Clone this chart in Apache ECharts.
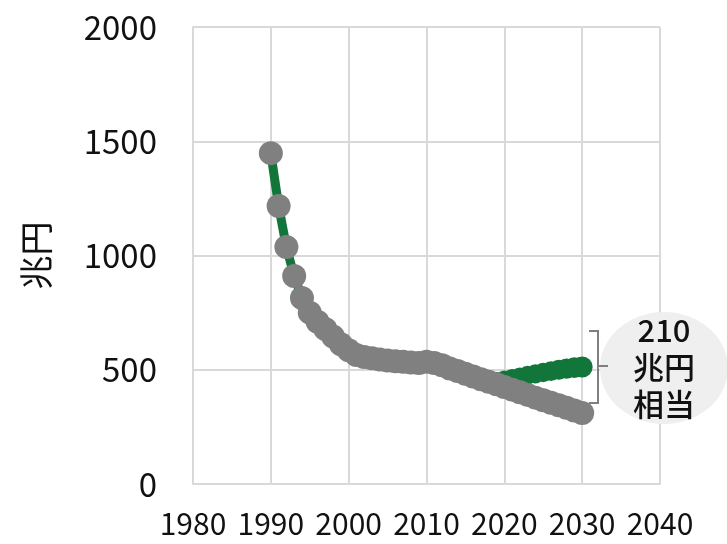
<!DOCTYPE html>
<html><head><meta charset="utf-8">
<script src="https://cdn.jsdelivr.net/npm/echarts@6/dist/echarts.min.js"></script>
<style>html,body{margin:0;padding:0;background:#fff;}#c{width:727px;height:544px;}</style>
</head><body><div id="c"></div>
<script>
const years = [1990,1991,1992,1993,1994,1995,1996,1997,1998,1999,2000,2001,2002,2003,2004,2005,2006,2007,2008,2009,2010,2011,2012,2013,2014,2015,2016,2017,2018,2019,2020,2021,2022,2023,2024,2025,2026,2027,2028,2029,2030];
const greyValues = [1448,1217,1037,910,814,750,710,678,645,612,585,565,556,550,545,540,537,535,532,530,535,530,520,505,495,482,470,458,447,436,424,413,401,390,378,367,356,345,334,322,311];
const greenValues = [1448,1217,1037,910,814,750,710,678,645,612,585,565,556,550,545,540,537,535,532,530,535,530,520,505,495,482,470,458,447,452,458,464,470,476,482,488,494,500,505,509,512];
const xTicks = {min:1980, max:2040, step:10};
const yTicks = {min:0, max:2000, step:500};
const yAxisName = '兆円';
const annotationLines = ['210','兆円','相当'];

const font = '"Noto Sans CJK JP","Noto Sans",sans-serif';
const chart = echarts.init(document.getElementById('c'), null, {renderer:'canvas'});
const pair = (vals) => years.map((y,i)=>[y, vals[i]]);

chart.setOption({
  animation:false,
  grid:{left:193, right:67, top:27, bottom:60},
  xAxis:{type:'value', min:xTicks.min, max:xTicks.max, interval:xTicks.step,
    axisLine:{show:true, lineStyle:{color:'#d9d9d9', width:2}},
    axisTick:{show:false},
    splitLine:{show:true, lineStyle:{color:'#d9d9d9', width:2}},
    axisLabel:{color:'#111', fontSize:30, fontFamily:font, margin:25, formatter:v=>String(v)}},
  yAxis:{type:'value', min:yTicks.min, max:yTicks.max, interval:yTicks.step,
    name:yAxisName, nameLocation:'middle', nameGap:140, nameRotate:90,
    nameTextStyle:{color:'#111', fontSize:34, fontFamily:font},
    axisLine:{show:true, lineStyle:{color:'#d9d9d9', width:2}},
    axisTick:{show:false},
    splitLine:{show:true, lineStyle:{color:'#d9d9d9', width:2}},
    axisLabel:{color:'#111', fontSize:33, fontFamily:font, margin:36, formatter:v=>String(v)}},
  series:[
    {type:'line', data:pair(greenValues), symbol:'circle',
     symbolSize:(v,p)=>8+13*p.dataIndex/(years.length-1),
     itemStyle:{color:'#12763a'}, lineStyle:{color:'#12763a', width:9}, z:2},
    {type:'line', data:pair(greyValues), symbol:'circle', symbolSize:24,
     itemStyle:{color:'#808080'}, lineStyle:{width:0, opacity:0}, z:3}
  ]
});

const cx = 664, cy = 368;
chart.setOption({graphic:[
  {type:'circle', shape:{cx:cx, cy:cy, r:56}, scaleX:64/56, originX:cx, originY:cy, style:{fill:'#efefef'}, z:1},
  {type:'polyline', shape:{points:[[589,331],[598,331],[598,403],[589,403]]}, style:{stroke:'#7f7f7f', lineWidth:2, fill:null}, z:5},
  {type:'line', shape:{x1:598,y1:366,x2:608,y2:366}, style:{stroke:'#7f7f7f', lineWidth:2}, z:5},
  {type:'text', x:cx, y:330, style:{text:annotationLines[0], font:'500 31px '+font, fill:'#111', align:'center', verticalAlign:'middle'}, z:6},
  {type:'text', x:cx, y:367, style:{text:annotationLines[1], font:'500 31px '+font, fill:'#111', align:'center', verticalAlign:'middle'}, z:6},
  {type:'text', x:cx, y:404, style:{text:annotationLines[2], font:'500 31px '+font, fill:'#111', align:'center', verticalAlign:'middle'}, z:6}
]});
</script></body></html>
